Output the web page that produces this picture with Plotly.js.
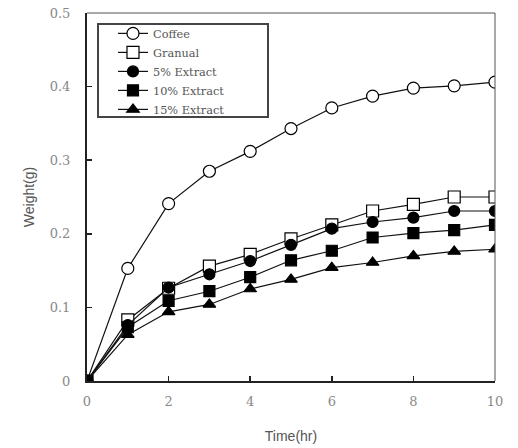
<!DOCTYPE html>
<html>
<head>
<meta charset="utf-8">
<script src="https://cdn.plot.ly/plotly-3.0.1.min.js"></script>
<style>html,body{margin:0;padding:0;background:#fff}#chart{width:518px;height:448px}</style>
</head>
<body>
<div id="chart"></div>
<script>
var timeHr = [0, 1, 2, 3, 4, 5, 6, 7, 8, 9, 10];
var coffee = [0, 0.153, 0.241, 0.285, 0.312, 0.343, 0.371, 0.387, 0.398, 0.401, 0.406];
var granual = [0, 0.083, 0.126, 0.156, 0.172, 0.193, 0.212, 0.231, 0.240, 0.250, 0.250];
var extract5 = [0, 0.076, 0.127, 0.145, 0.163, 0.185, 0.207, 0.216, 0.222, 0.231, 0.231];
var extract10 = [0, 0.073, 0.109, 0.122, 0.141, 0.164, 0.177, 0.195, 0.201, 0.205, 0.212];
var extract15 = [0, 0.063, 0.094, 0.104, 0.125, 0.138, 0.154, 0.161, 0.170, 0.176, 0.179];
var seriesNames = ["Coffee", "Granual", "5% Extract", "10% Extract", "15% Extract"];
var seriesSymbols = ["circle", "square", "circle", "square", "triangle-up"];
var seriesFill = ["#fff", "#fff", "#000", "#000", "#000"];
var seriesData = [coffee, granual, extract5, extract10, extract15];
var xTicks = [0, 2, 4, 6, 8, 10];
var yTicks = [0, 0.1, 0.2, 0.3, 0.4, 0.5];
var yTickText = ["0", "0.1", "0.2", "0.3", "0.4", "0.5"];

var traces = seriesData.map(function (d, i) {
  var open = seriesFill[i] === "#fff";
  return {
    x: timeHr, y: d, name: seriesNames[i], type: "scatter", mode: "lines+markers",
    line: {color: "#111", width: 1.2},
    marker: {symbol: seriesSymbols[i], size: open ? 12 : 11, color: seriesFill[i],
             line: {color: "#000", width: 1.2}}
  };
});
var tickFont = {family: "DejaVu Serif, Liberation Serif, serif", size: 13, color: "#888"};
var titleFont = {family: "Liberation Sans, Arial, sans-serif", size: 14, color: "#555"};
var layout = {
  width: 518, height: 448,
  margin: {l: 87, r: 23, t: 13, b: 67},
  paper_bgcolor: "#fff", plot_bgcolor: "#fff",
  showlegend: true,
  legend: {x: 0.0637, y: 0.984, xanchor: "left", yanchor: "top",
           borderwidth: 0, bgcolor: "rgba(0,0,0,0)",
           font: {family: "DejaVu Serif, Liberation Serif, serif", size: 11.3, color: "#555"},
           tracegroupgap: 0, itemwidth: 30},
  xaxis: {range: [0, 10], tickvals: xTicks, ticktext: xTicks.map(String),
          ticks: "inside", ticklen: 5, tickcolor: "#222", tickwidth: 1.5,
          showline: true, linecolor: "#222", linewidth: 2, showgrid: false, zeroline: false,
          tickfont: tickFont, ticklabelstandoff: 7,
          title: {text: "Time(hr)", font: titleFont, standoff: 24}},
  yaxis: {range: [0, 0.5], tickvals: yTicks, ticktext: yTickText,
          ticks: "inside", ticklen: 5, tickcolor: "#222", tickwidth: 1.5,
          showline: true, linecolor: "#222", linewidth: 2, showgrid: false, zeroline: false,
          tickfont: tickFont, ticklabelstandoff: 12,
          title: {text: "Weight(g)", font: titleFont, standoff: 12}},
  shapes: [
    {type: "line", xref: "paper", yref: "paper", x0: 0, x1: 1, y0: 1, y1: 1, line: {color: "#555", width: 1}},
    {type: "line", xref: "paper", yref: "paper", x0: 1, x1: 1, y0: 0, y1: 1, line: {color: "#555", width: 1}},
    {type: "rect", xref: "paper", yref: "paper", x0: 0.027, x1: 0.4436, y0: 0.7174, y1: 0.970,
     line: {color: "#444", width: 2}, fillcolor: "rgba(0,0,0,0)"}
  ]
};
Plotly.newPlot("chart", traces, layout, {displayModeBar: false, staticPlot: true});
</script>
</body>
</html>
